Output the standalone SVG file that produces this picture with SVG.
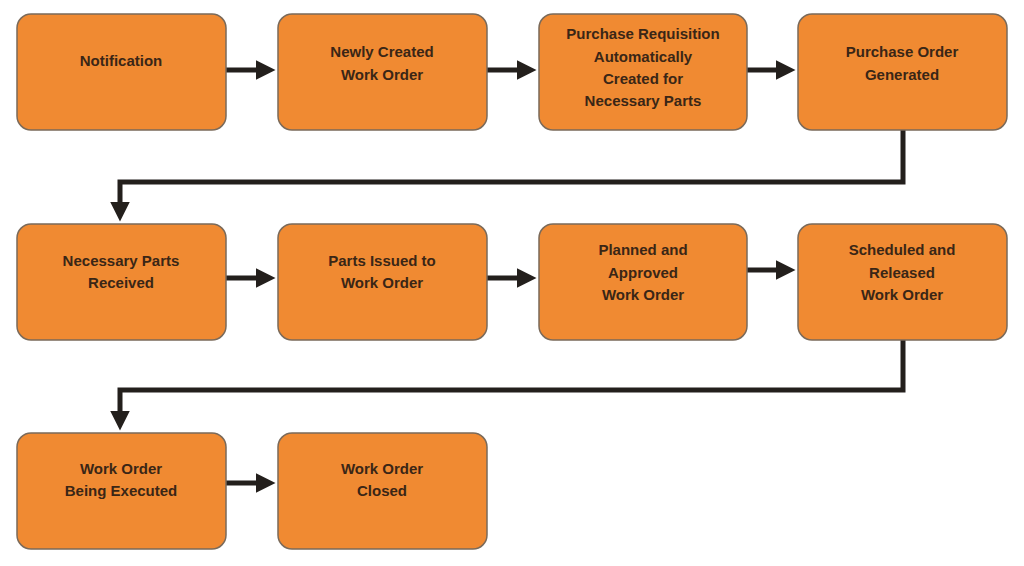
<svg xmlns="http://www.w3.org/2000/svg" width="1024" height="566" viewBox="0 0 1024 566">
<style>
.b{fill:#F08A32;stroke:#7a6a5a;stroke-width:1.5}
.t{font-family:"Liberation Sans",Arial,sans-serif;font-weight:bold;font-size:15px;fill:#3a2616;text-anchor:middle}
.c{fill:none;stroke:#231f1c;stroke-width:5}
</style>
<defs><marker id="a" markerWidth="4" markerHeight="4" refX="2.5" refY="2" orient="auto" markerUnits="strokeWidth"><path d="M0,0L4,2L0,4z" fill="#231f1c"/></marker></defs>
<rect width="1024" height="566" fill="#fff"/>
<g id="connectors">
<path class="c" d="M226,70H268" marker-end="url(#a)"/>
<path class="c" d="M487,70H529" marker-end="url(#a)"/>
<path class="c" d="M747,70H788" marker-end="url(#a)"/>
<path class="c" d="M903,130V182H120V214" marker-end="url(#a)"/>
<path class="c" d="M226,278H268" marker-end="url(#a)"/>
<path class="c" d="M487,278H529" marker-end="url(#a)"/>
<path class="c" d="M747,270H788" marker-end="url(#a)"/>
<path class="c" d="M903,340V390H120V423" marker-end="url(#a)"/>
<path class="c" d="M226,483H268" marker-end="url(#a)"/>
</g>
<g id="n1"><rect class="b" x="17" y="14" width="209" height="116" rx="14"/><text class="t" x="121" y="66">Notification</text></g>
<g id="n2"><rect class="b" x="278" y="14" width="209" height="116" rx="14"/><text class="t" x="382" y="57">Newly Created</text><text class="t" x="382" y="80">Work Order</text></g>
<g id="n3"><rect class="b" x="539" y="14" width="208" height="116" rx="14"/><text class="t" x="643" y="39">Purchase Requisition</text><text class="t" x="643" y="62">Automatically</text><text class="t" x="643" y="84">Created for</text><text class="t" x="643" y="106">Necessary Parts</text></g>
<g id="n4"><rect class="b" x="798" y="14" width="209" height="116" rx="14"/><text class="t" x="902" y="57">Purchase Order</text><text class="t" x="902" y="80">Generated</text></g>
<g id="n5"><rect class="b" x="17" y="224" width="209" height="116" rx="14"/><text class="t" x="121" y="266">Necessary Parts</text><text class="t" x="121" y="288">Received</text></g>
<g id="n6"><rect class="b" x="278" y="224" width="209" height="116" rx="14"/><text class="t" x="382" y="266">Parts Issued to</text><text class="t" x="382" y="288">Work Order</text></g>
<g id="n7"><rect class="b" x="539" y="224" width="208" height="116" rx="14"/><text class="t" x="643" y="255">Planned and</text><text class="t" x="643" y="278">Approved</text><text class="t" x="643" y="300">Work Order</text></g>
<g id="n8"><rect class="b" x="798" y="224" width="209" height="116" rx="14"/><text class="t" x="902" y="255">Scheduled and</text><text class="t" x="902" y="278">Released</text><text class="t" x="902" y="300">Work Order</text></g>
<g id="n9"><rect class="b" x="17" y="433" width="209" height="116" rx="14"/><text class="t" x="121" y="474">Work Order</text><text class="t" x="121" y="496">Being Executed</text></g>
<g id="n10"><rect class="b" x="278" y="433" width="209" height="116" rx="14"/><text class="t" x="382" y="474">Work Order</text><text class="t" x="382" y="496">Closed</text></g>
</svg>
